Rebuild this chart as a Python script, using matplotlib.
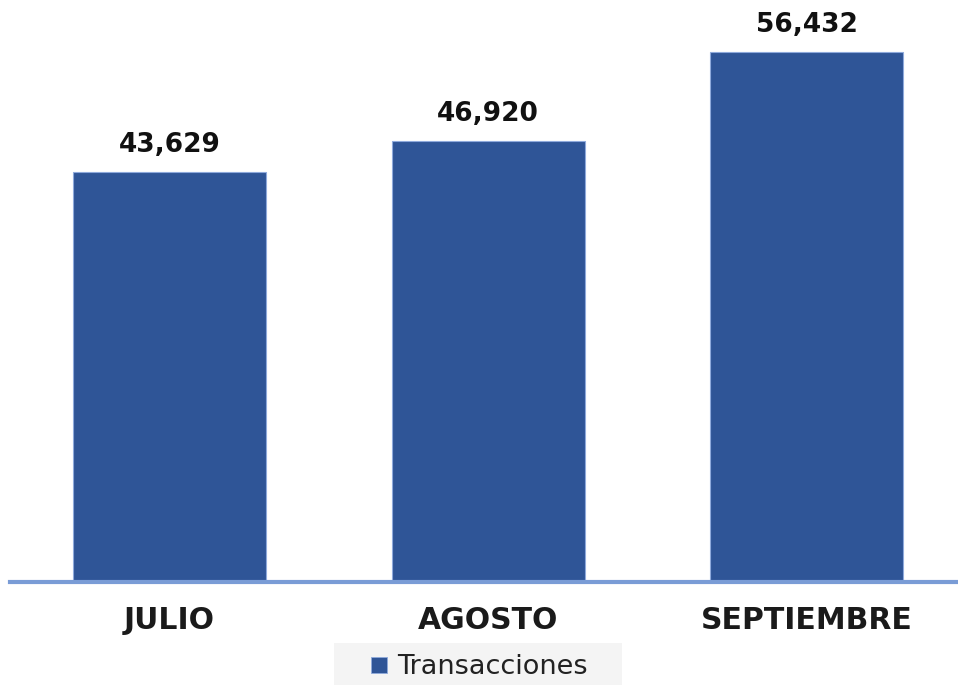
import matplotlib.pyplot as plt
from matplotlib.lines import Line2D
from matplotlib.patches import Rectangle

MONTHS = ["JULIO", "AGOSTO", "SEPTIEMBRE"]
TRANSACCIONES = [43629, 46920, 56432]
SERIES_NAME = "Transacciones"

BAR_COLOR = "#2F5597"
AXIS_COLOR = "#7A9CD6"

plt.rcParams["font.family"] = ["DejaVu Sans"]

fig = plt.figure(figsize=(9.58, 6.85), dpi=100)
ax = fig.add_axes([10 / 958, 103 / 685, 948 / 958, 582 / 685])

x = list(range(len(MONTHS)))
bars = ax.bar(x, TRANSACCIONES, width=0.605, color=BAR_COLOR,
              edgecolor="#8FAADC", linewidth=0.8)
ax.set_xlim(-0.5, -0.5 + 948 / 318.75)
ax.set_ylim(0, max(TRANSACCIONES) * 582 / 530)

for b, v in zip(bars, TRANSACCIONES):
    ax.annotate(f"{v:,}", xy=(b.get_x() + b.get_width() / 2, v),
                xytext=(0, 10), textcoords="offset points",
                ha="center", va="bottom", fontsize=19, fontweight="bold",
                color="#111111")

for side in ("top", "right", "left"):
    ax.spines[side].set_visible(False)
ax.spines["bottom"].set_color(AXIS_COLOR)
ax.spines["bottom"].set_linewidth(3)
ax.set_yticks([])
ax.set_xticks(x)
ax.set_xticklabels(MONTHS, fontsize=21.5, fontweight="bold", color="#1a1a1a")
ax.tick_params(axis="x", length=0, pad=17)

# legend box (light gray) at the bottom, partially clipped
fig.add_artist(Rectangle((334 / 958, 0), 288 / 958, 42 / 685,
                         transform=fig.transFigure, facecolor="#F4F4F4",
                         edgecolor="none", zorder=0))
handle = Line2D([], [], marker="s", linestyle="none", markersize=11,
                markerfacecolor=BAR_COLOR, markeredgecolor="#8FAADC",
                markeredgewidth=0.6)
fig.legend([handle], [SERIES_NAME], loc="center",
           bbox_to_anchor=(478 / 958, 1 - 667 / 685), frameon=False,
           fontsize=19.5, handlelength=0.8, handletextpad=0.25,
           borderpad=0, labelcolor="#222222")

fig.savefig("out.png", dpi=100)
